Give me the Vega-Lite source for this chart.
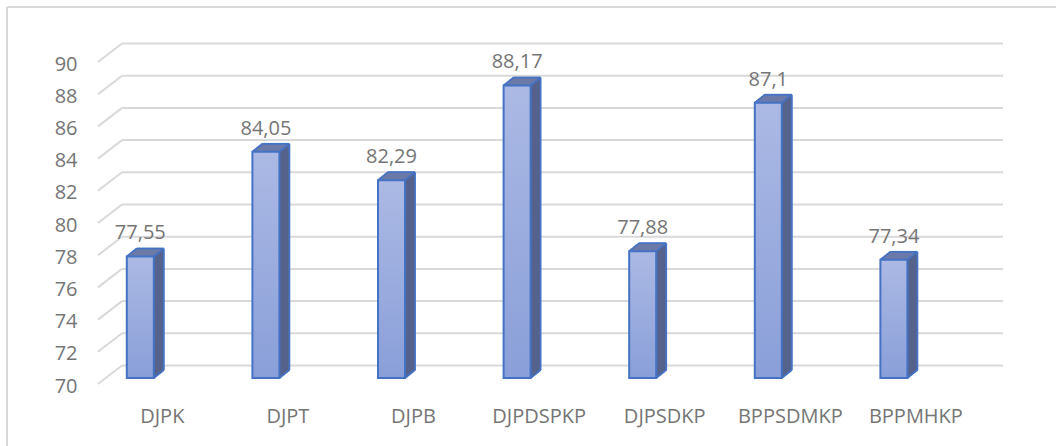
{
  "$schema": "https://vega.github.io/schema/vega-lite/v6.json",
  "width": 1049,
  "height": 439,
  "padding": {"left": 7, "top": 7, "right": 0, "bottom": 0},
  "autosize": {"type": "none"},
  "background": "white",
  "config": {
    "view": {"stroke": null},
    "font": "Open Sans",
    "locale": {"number": {"decimal": ",", "thousands": ".", "grouping": [3], "currency": ["", ""]}}
  },
  "datasets": {
    "bars": [
      {"cat": "DJPK", "v": 77.55},
      {"cat": "DJPT", "v": 84.05},
      {"cat": "DJPB", "v": 82.29},
      {"cat": "DJPDSPKP", "v": 88.17},
      {"cat": "DJPSDKP", "v": 77.88},
      {"cat": "BPPSDMKP", "v": 87.1},
      {"cat": "BPPMHKP", "v": 77.34}
    ],
    "ticks": [{"v": 70}, {"v": 72}, {"v": 74}, {"v": 76}, {"v": 78}, {"v": 80}, {"v": 82}, {"v": 84}, {"v": 86}, {"v": 88}, {"v": 90}],
    "edges": [{"v": 90, "w": 70}]
  },
  "encoding": {
    "x": {"field": "cat", "type": "nominal", "sort": null,
      "scale": {"domain": ["DJPK", "DJPT", "DJPB", "DJPDSPKP", "DJPSDKP", "BPPSDMKP", "BPPMHKP"], "range": [70.5, 949.7], "paddingInner": 0, "paddingOuter": 0},
      "axis": {"orient": "bottom", "offset": -40, "labelOffset": 22, "labelPadding": 0, "labelAngle": 0, "labelFontSize": 20, "labelColor": "#757575", "labelFont": "Open Sans", "domain": false, "ticks": false, "grid": false, "title": null}},
    "y": {"field": "v", "type": "quantitative",
      "scale": {"domain": [70, 90], "range": [371, 49], "zero": false, "nice": false},
      "axis": {"values": [70, 72, 74, 76, 78, 80, 82, 84, 86, 88, 90], "offset": -70, "labelOffset": 8, "labelPadding": 0, "labelFontSize": 20, "labelColor": "#757575", "labelFont": "Open Sans", "domain": false, "ticks": false, "grid": false, "title": null}}
  },
  "layer": [
    {
      "data": {"name": "edges"},
      "mark": {"type": "rule", "stroke": "#d9d9d9", "strokeWidth": 2, "xOffset": -70.5, "x2Offset": 120, "yOffset": -49},
      "encoding": {
        "x": {"datum": "DJPK", "bandPosition": 0},
        "x2": {"datum": "BPPMHKP", "bandPosition": 1}
      }
    },
    {
      "data": {"name": "edges"},
      "mark": {"type": "rule", "stroke": "#d9d9d9", "strokeWidth": 2, "xOffset": -70.5, "yOffset": -49, "y2Offset": 90},
      "encoding": {
        "x": {"datum": "DJPK", "bandPosition": 0},
        "y2": {"field": "w"}
      }
    },
    {
      "data": {"name": "ticks"},
      "mark": {"type": "rule", "stroke": "#d9d9d9", "strokeWidth": 2, "xOffset": 44.5, "x2Offset": 46.3, "yOffset": -12.5},
      "encoding": {
        "x": {"datum": "DJPK", "bandPosition": 0},
        "x2": {"datum": "BPPMHKP", "bandPosition": 1}
      }
    },
    {
      "data": {"name": "ticks"},
      "mark": {"type": "rule", "stroke": "#d9d9d9", "strokeWidth": 2, "xOffset": 20.5, "x2Offset": 44.5, "yOffset": 6, "y2Offset": -12.5},
      "encoding": {
        "x": {"datum": "DJPK", "bandPosition": 0},
        "x2": {"datum": "DJPK", "bandPosition": 0},
        "y2": {"field": "v"}
      }
    },
    {"data": {"name": "bars"}, "mark": {"type": "bar", "fill": "#55638c", "width": 2.8, "xOffset": 14.5, "yOffset": -0.8, "y2Offset": -0.8}, "encoding": {"y2": {"datum": 70}}},
    {"data": {"name": "bars"}, "mark": {"type": "bar", "fill": "#55638c", "width": 2.8, "xOffset": 16.5, "yOffset": -2.4, "y2Offset": -2.4}, "encoding": {"y2": {"datum": 70}}},
    {"data": {"name": "bars"}, "mark": {"type": "bar", "fill": "#55638c", "width": 2.8, "xOffset": 18.5, "yOffset": -4, "y2Offset": -4}, "encoding": {"y2": {"datum": 70}}},
    {"data": {"name": "bars"}, "mark": {"type": "bar", "fill": "#55638c", "width": 2.8, "xOffset": 20.5, "yOffset": -5.6, "y2Offset": -5.6}, "encoding": {"y2": {"datum": 70}}},
    {"data": {"name": "bars"}, "mark": {"type": "bar", "fill": "#55638c", "width": 2.8, "xOffset": 22.5, "yOffset": -7.2, "y2Offset": -7.2}, "encoding": {"y2": {"datum": 70}}},
    {"data": {"name": "bars"}, "mark": {"type": "bar", "fill": "#6b7aa8", "width": 27, "xOffset": 1.25, "yOffset": -2.4, "y2Offset": 0.4}, "encoding": {"y2": {"field": "v"}}},
    {"data": {"name": "bars"}, "mark": {"type": "bar", "fill": "#6b7aa8", "width": 27, "xOffset": 3.75, "yOffset": -4.4, "y2Offset": -1.6}, "encoding": {"y2": {"field": "v"}}},
    {"data": {"name": "bars"}, "mark": {"type": "bar", "fill": "#6b7aa8", "width": 27, "xOffset": 6.25, "yOffset": -6.4, "y2Offset": -3.6}, "encoding": {"y2": {"field": "v"}}},
    {"data": {"name": "bars"}, "mark": {"type": "bar", "fill": "#6b7aa8", "width": 27, "xOffset": 8.75, "yOffset": -8.4, "y2Offset": -5.6}, "encoding": {"y2": {"field": "v"}}},
    {
      "data": {"name": "bars"},
      "mark": {"type": "bar", "width": 27, "stroke": "#4472c4", "strokeWidth": 2,
        "fill": {"x1": 0, "y1": 0, "x2": 0, "y2": 1, "gradient": "linear", "stops": [{"offset": 0, "color": "#abb9e4"}, {"offset": 1, "color": "#8a9fd9"}]}},
      "encoding": {"y2": {"datum": 70}}
    },
    {
      "data": {"name": "bars"},
      "mark": {"type": "rule", "stroke": "#4472c4", "strokeWidth": 1.8, "xOffset": -3.5, "x2Offset": 23.5, "yOffset": -8},
      "encoding": {"x": {"field": "cat", "type": "nominal", "bandPosition": 0.5}, "x2": {"field": "cat", "bandPosition": 0.5}}
    },
    {
      "data": {"name": "bars"},
      "mark": {"type": "rule", "stroke": "#4472c4", "strokeWidth": 1.8, "xOffset": -13.5, "x2Offset": -3.5, "y2Offset": -8},
      "encoding": {"x": {"field": "cat", "type": "nominal", "bandPosition": 0.5}, "x2": {"field": "cat", "bandPosition": 0.5}, "y2": {"field": "v"}}
    },
    {
      "data": {"name": "bars"},
      "mark": {"type": "rule", "stroke": "#4472c4", "strokeWidth": 1.8, "xOffset": 13.5, "x2Offset": 23.5, "y2Offset": -8},
      "encoding": {"x": {"field": "cat", "type": "nominal", "bandPosition": 0.5}, "x2": {"field": "cat", "bandPosition": 0.5}, "y2": {"field": "v"}}
    },
    {
      "data": {"name": "bars"},
      "mark": {"type": "rule", "stroke": "#4472c4", "strokeWidth": 1.8, "xOffset": 23.5, "yOffset": -8, "y2Offset": -8},
      "encoding": {"x": {"field": "cat", "type": "nominal", "bandPosition": 0.5}, "y2": {"datum": 70}}
    },
    {
      "data": {"name": "bars"},
      "mark": {"type": "rule", "stroke": "#4472c4", "strokeWidth": 1.8, "xOffset": 13.5, "x2Offset": 23.5, "y2Offset": -8},
      "encoding": {"x": {"field": "cat", "type": "nominal", "bandPosition": 0.5}, "x2": {"field": "cat", "bandPosition": 0.5}, "y": {"datum": 70}, "y2": {"datum": 70}}
    },
    {
      "data": {"name": "bars"},
      "mark": {"type": "text", "dy": -17, "baseline": "alphabetic", "align": "center", "fontSize": 20, "font": "Open Sans", "fill": "#757575"},
      "encoding": {
        "x": {"field": "cat", "type": "nominal", "bandPosition": 0.5},
        "text": {"field": "v", "type": "quantitative", "format": ".2~f"}
      }
    }
  ]
}
